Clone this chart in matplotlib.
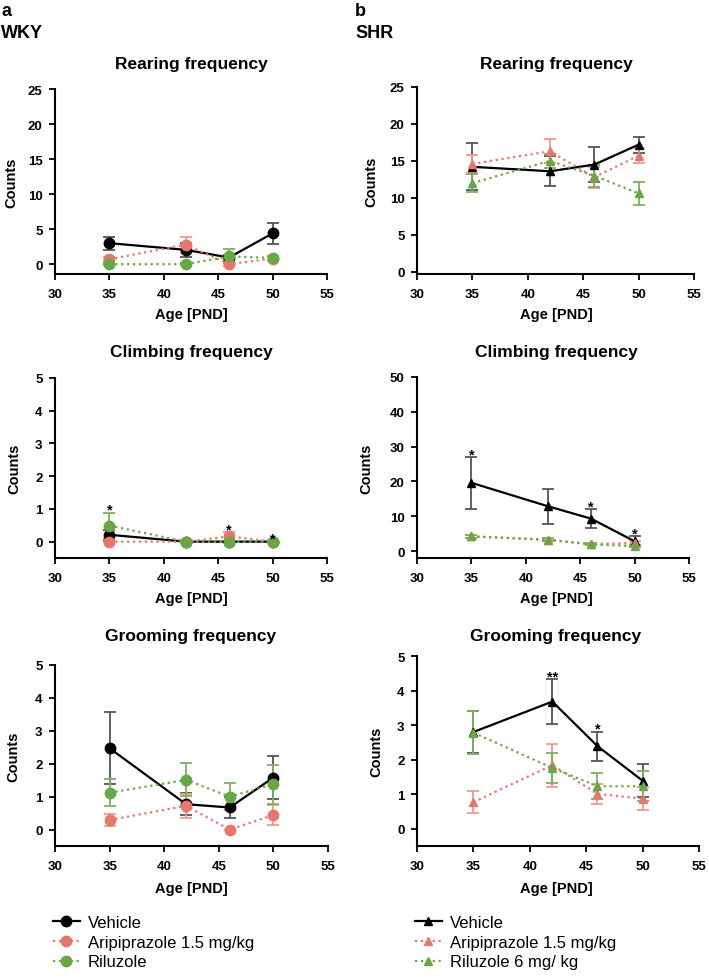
import matplotlib
matplotlib.use("Agg")
import matplotlib.pyplot as plt
from matplotlib.lines import Line2D

plt.rcParams["font.family"] = ["Liberation Sans", "DejaVu Sans"]

ages = [35, 42, 46, 50]
groups_wky = ["Vehicle", "Aripiprazole 1.5 mg/kg", "Riluzole"]
groups_shr = ["Vehicle", "Aripiprazole 1.5 mg/kg", "Riluzole 6 mg/ kg"]

# WKY (panel a)
wky_rear_veh = [3.0, 2.05, 0.95, 4.4]
wky_rear_veh_err = [0.95, 1.0, 0.3, 1.5]
wky_rear_ari = [0.7, 2.8, 0.0, 0.8]
wky_rear_ari_err = [0.3, 1.15, 0.2, 0.3]
wky_rear_ril = [0.0, 0.0, 1.1, 0.9]
wky_rear_ril_err = [0.1, 0.1, 1.0, 0.3]

wky_climb_veh = [0.21, 0.0, 0.0, 0.0]
wky_climb_veh_err = [0.15, 0.0, 0.0, 0.0]
wky_climb_ari = [0.0, 0.0, 0.16, 0.0]
wky_climb_ari_err = [0.0, 0.0, 0.13, 0.0]
wky_climb_ril = [0.49, 0.0, 0.0, 0.0]
wky_climb_ril_err = [0.4, 0.0, 0.0, 0.0]
wky_climb_stars = ["*", "", "*", "*"]

wky_groom_veh = [2.47, 0.77, 0.67, 1.58]
wky_groom_veh_err = [1.09, 0.33, 0.33, 0.64]
wky_groom_ari = [0.29, 0.72, 0.0, 0.44]
wky_groom_ari_err = [0.18, 0.37, 0.0, 0.3]
wky_groom_ril = [1.12, 1.51, 1.0, 1.37]
wky_groom_ril_err = [0.41, 0.5, 0.4, 0.6]

# SHR (panel b)
shr_rear_veh = [14.2, 13.6, 14.5, 17.2]
shr_rear_veh_err = [3.2, 2.0, 2.4, 1.1]
shr_rear_ari = [14.6, 16.3, 12.8, 15.7]
shr_rear_ari_err = [1.2, 1.6, 1.4, 1.0]
shr_rear_ril = [12.0, 15.0, 13.0, 10.6]
shr_rear_ril_err = [1.2, 0.9, 1.5, 1.5]

shr_climb_veh = [19.6, 12.9, 9.3, 2.8]
shr_climb_veh_err = [7.4, 5.0, 2.8, 1.5]
shr_climb_ari = [4.2, 3.2, 2.0, 2.3]
shr_climb_ari_err = [0.5, 0.4, 0.3, 0.5]
shr_climb_ril = [4.2, 3.3, 1.9, 1.4]
shr_climb_ril_err = [0.5, 0.4, 0.3, 0.3]
shr_climb_stars = ["*", "", "*", "*"]

shr_groom_veh = [2.8, 3.68, 2.39, 1.39]
shr_groom_veh_err = [0.6, 0.65, 0.42, 0.47]
shr_groom_ari = [0.77, 1.84, 1.01, 0.87]
shr_groom_ari_err = [0.31, 0.62, 0.28, 0.33]
shr_groom_ril = [2.78, 1.76, 1.23, 1.23]
shr_groom_ril_err = [0.63, 0.44, 0.37, 0.43]
shr_groom_stars = ["", "**", "*", ""]

col_veh = "black"
col_ari = "#E8766A"
col_ril = "#66A844"
err_veh = "#555555"
err_ari = "#EE9A90"
err_ril = "#7FAE62"


def draw_panel(ax, series, marker, ms, ylim, yticks, label_x, stars=None):
    # series: list of (mean, err, colour, errcolour, linestyle)
    for mean, err, c, ec, ls in series:
        ax.errorbar(ages, mean, yerr=err, fmt="none", ecolor=ec, elinewidth=1.3,
                    capsize=4, capthick=1.3, zorder=2)
        ax.plot(ages, mean, linestyle=ls, color=c, lw=1.6, marker=marker, ms=ms,
                markeredgecolor=c, markerfacecolor=c, zorder=3)
    if stars:
        for i, s in enumerate(stars):
            if not s:
                continue
            top = max(m[i] + e[i] for m, e, *_ in series)
            ax.annotate(s, (ages[i], top), xytext=(0, -3), textcoords="offset points",
                        ha="center", va="bottom", fontsize=10.5, fontweight="bold")
    ax.set_xlim(30, 55)
    ax.set_ylim(*ylim)
    ax.set_xticks([30, 35, 40, 45, 50, 55])
    ax.set_yticks(yticks)
    for sp in ["top", "right"]:
        ax.spines[sp].set_visible(False)
    for sp in ["left", "bottom"]:
        ax.spines[sp].set_linewidth(1.5)
    ax.spines["left"].set_bounds(ylim[0], yticks[-1])
    ax.tick_params(width=1.3, length=4, labelsize=9.5)
    ax.tick_params(axis="y", pad=5)
    ax.tick_params(axis="x", pad=6)
    for lab in ax.get_xticklabels() + ax.get_yticklabels():
        lab.set_fontweight("bold")
    ax.set_ylabel("Counts", fontsize=10.5, fontweight="bold")
    ax.yaxis.set_label_coords(label_x, 0.5)


fig = plt.figure(figsize=(7.09, 9.79), dpi=100)
W, H = 709.0, 979.0


def rect(x0, y_top, x1, y_bot):
    return [x0 / W, 1 - y_bot / H, (x1 - x0) / W, (y_bot - y_top) / H]


ax_a1 = fig.add_axes(rect(55, 90, 327, 275))
ax_b1 = fig.add_axes(rect(417, 88, 694, 275))
ax_a2 = fig.add_axes(rect(55, 379, 327, 559))
ax_b2 = fig.add_axes(rect(417, 378, 689, 559))
ax_a3 = fig.add_axes(rect(55, 666, 328, 847))
ax_b3 = fig.add_axes(rect(417, 657, 699, 847))

draw_panel(ax_a1, [(wky_rear_veh, wky_rear_veh_err, col_veh, err_veh, "-"),
                   (wky_rear_ari, wky_rear_ari_err, col_ari, err_ari, ":"),
                   (wky_rear_ril, wky_rear_ril_err, col_ril, err_ril, ":")],
           "o", 7.5, (-1.4, 25), [0, 5, 10, 15, 20, 25], -0.135)
draw_panel(ax_a2, [(wky_climb_veh, wky_climb_veh_err, col_veh, err_veh, "-"),
                   (wky_climb_ari, wky_climb_ari_err, col_ari, err_ari, ":"),
                   (wky_climb_ril, wky_climb_ril_err, col_ril, err_ril, ":")],
           "o", 7.5, (-0.5, 5), [0, 1, 2, 3, 4, 5], -0.125, wky_climb_stars)
draw_panel(ax_a3, [(wky_groom_veh, wky_groom_veh_err, col_veh, err_veh, "-"),
                   (wky_groom_ari, wky_groom_ari_err, col_ari, err_ari, ":"),
                   (wky_groom_ril, wky_groom_ril_err, col_ril, err_ril, ":")],
           "o", 7.5, (-0.5, 5), [0, 1, 2, 3, 4, 5], -0.125)

draw_panel(ax_b1, [(shr_rear_veh, shr_rear_veh_err, col_veh, err_veh, "-"),
                   (shr_rear_ari, shr_rear_ari_err, col_ari, err_ari, ":"),
                   (shr_rear_ril, shr_rear_ril_err, col_ril, err_ril, ":")],
           "^", 6, (-0.3, 25), [0, 5, 10, 15, 20, 25], -0.14)
draw_panel(ax_b2, [(shr_climb_veh, shr_climb_veh_err, col_veh, err_veh, "-"),
                   (shr_climb_ari, shr_climb_ari_err, col_ari, err_ari, ":"),
                   (shr_climb_ril, shr_climb_ril_err, col_ril, err_ril, ":")],
           "^", 6, (-2, 50), [0, 10, 20, 30, 40, 50], -0.16, shr_climb_stars)
draw_panel(ax_b3, [(shr_groom_veh, shr_groom_veh_err, col_veh, err_veh, "-"),
                   (shr_groom_ari, shr_groom_ari_err, col_ari, err_ari, ":"),
                   (shr_groom_ril, shr_groom_ril_err, col_ril, err_ril, ":")],
           "^", 6, (-0.5, 5), [0, 1, 2, 3, 4, 5], -0.12, shr_groom_stars)

# titles and x labels placed in figure pixels
titles = ["Rearing frequency", "Climbing frequency", "Grooming frequency"]
title_y = [64, 353, 637]
xlab_y = [315, 599, 889]
for t, ty, xy in zip(titles, title_y, xlab_y):
    fig.text(191 / W, 1 - ty / H, t, ha="center", va="center", fontsize=12.5, fontweight="bold")
    fig.text(556 / W, 1 - ty / H, t, ha="center", va="center", fontsize=12.5, fontweight="bold")
    fig.text(191 / W, 1 - xy / H, "Age [PND]", ha="center", va="center", fontsize=10.5, fontweight="bold")
    fig.text(556 / W, 1 - xy / H, "Age [PND]", ha="center", va="center", fontsize=10.5, fontweight="bold")

fig.text(1 / W, 1 - 12 / H, "a", ha="left", va="center", fontsize=13, fontweight="bold")
fig.text(1 / W, 1 - 34 / H, "WKY", ha="left", va="center", fontsize=13, fontweight="bold")
fig.text(355 / W, 1 - 12 / H, "b", ha="left", va="center", fontsize=13, fontweight="bold")
fig.text(355 / W, 1 - 34 / H, "SHR", ha="left", va="center", fontsize=13, fontweight="bold")

# legends
styles = [(col_veh, "-"), (col_ari, ":"), (col_ril, ":")]
h_a = [Line2D([], [], color=c, ls=ls, lw=1.6, marker="o", ms=7.5) for c, ls in styles]
h_b = [Line2D([], [], color=c, ls=ls, lw=1.6, marker="^", ms=6) for c, ls in styles]
fig.legend(h_a, groups_wky, loc="upper left", bbox_to_anchor=(53 / W, 1 - 916 / H),
           frameon=False, fontsize=12, handlelength=1.6, handletextpad=0.5,
           labelspacing=0.28, borderpad=0, borderaxespad=0)
fig.legend(h_b, groups_shr, loc="upper left", bbox_to_anchor=(415 / W, 1 - 916 / H),
           frameon=False, fontsize=12, handlelength=1.6, handletextpad=0.5,
           labelspacing=0.28, borderpad=0, borderaxespad=0)

fig.savefig("out.png", dpi=100)
